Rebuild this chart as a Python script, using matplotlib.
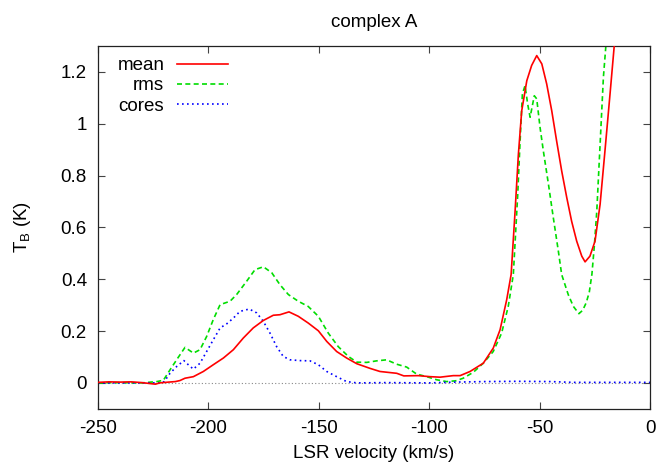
import matplotlib
matplotlib.use("Agg")
import matplotlib.pyplot as plt

plt.rcParams['font.family'] = ['Liberation Sans', 'DejaVu Sans']
plt.rcParams['mathtext.default'] = 'regular'

title = "complex A"
xlabel = "LSR velocity (km/s)"
ylabel = r"T$_{B}$ (K)"

# mean
v_mean = [-250, -245, -240, -235, -230, -226, -224, -222, -218, -215, -212.9, -210.6, -206.8,
          -202.3, -197.8, -193.2, -188.7, -184.2, -179.7, -175.1, -170.6, -167.6, -163.5,
          -159.3, -154.8, -150.2, -146.4, -141.9, -137.4, -132.8, -126.8, -122.3, -118,
          -114.7, -111.5, -105, -99.6, -95.1, -89.1, -86, -81.5, -75.5, -71, -67.9, -64.9,
          -62.9, -61.1, -59.6, -58.1, -55.8, -53.6, -51.3, -49.0, -46.8, -44.5, -42.3, -40.0,
          -37.7, -35.5, -33.2, -30.9, -29.4, -27.2, -24.9, -22.6, -20.4, -18.1, -16.1, -14, -10]
T_mean = [0.002, 0.004, 0.003, 0.004, 0.001, -0.003, -0.005, 0.0, 0.003, 0.005, 0.009, 0.018,
          0.024, 0.044, 0.07, 0.096, 0.128, 0.173, 0.212, 0.241, 0.261, 0.263, 0.274, 0.257,
          0.231, 0.201, 0.16, 0.121, 0.096, 0.074, 0.056, 0.044, 0.040, 0.037, 0.027, 0.028,
          0.024, 0.022, 0.028, 0.028, 0.044, 0.076, 0.134, 0.205, 0.321,
          0.418, 0.663, 0.883, 1.05, 1.166, 1.225, 1.263, 1.231, 1.154, 1.05, 0.934, 0.818,
          0.715, 0.624, 0.547, 0.489, 0.467, 0.489, 0.547, 0.689, 0.895, 1.115, 1.31, 1.6, 2.0]

# rms
v_rms = [-250, -240, -230, -223.4, -220.4, -217.4, -214.4, -210.6, -206.8, -203.8, -200.8,
         -197.8, -194.7, -190.2, -187.2, -182.7, -178.9, -175.1, -171.3, -167.6, -163.8,
         -159.3, -154.8, -150.2, -145.7, -141.2, -136.6, -132.8, -128.3, -123.8, -119.3,
         -114.7, -110.2, -105.7, -101.1, -96.6, -92.1, -88, -84.6, -80, -75.5, -71, -67.2,
         -64.2, -61.9, -59.9, -58.9, -57.8, -56.6, -55.4, -54.3, -52.4, -51.3, -49.8, -48.3,
         -46.0, -43.8, -41.5, -40.0, -37.0, -34.7, -32.2, -30.5, -28.9, -27.5, -26.3, -25.2,
         -24.1, -22.6, -21.1, -19.9, -18.5]
T_rms = [0.0, 0.001, 0.0, 0.005, 0.01, 0.05, 0.089, 0.137, 0.115, 0.128, 0.179, 0.244, 0.302,
         0.315, 0.341, 0.392, 0.437, 0.448, 0.425, 0.379, 0.341, 0.315, 0.295, 0.257, 0.192,
         0.14, 0.102, 0.08, 0.079, 0.085, 0.089, 0.072, 0.061, 0.034, 0.024, 0.012, 0.005,
         0.008, 0.018, 0.041, 0.076, 0.121, 0.192, 0.295, 0.418, 0.728, 0.921, 1.115, 1.147,
         1.076, 1.025, 1.108, 1.096, 0.986, 0.895, 0.767, 0.638, 0.508, 0.418, 0.34, 0.295,
         0.267, 0.28, 0.309, 0.35, 0.42, 0.53, 0.663, 0.921, 1.18, 1.31, 1.6]

# cores
v_cores = [-250, -235, -222, -220, -217.4, -214.4, -211.1, -209.1, -206.8, -203.8, -200.8,
           -197.8, -194.7, -191.7, -188.7, -185.7, -181.5, -178.1, -175.1, -172.1, -169.1,
           -166.1, -163, -158.5, -154, -150.2, -146.4, -141.9, -137.4, -132.8, -120, -100,
           -88, -75, -60, -45, -35, -20, 0]
T_cores = [0.0, 0.0, 0.0, 0.005, 0.037, 0.063, 0.086, 0.07, 0.053, 0.076, 0.121, 0.166, 0.212,
           0.228, 0.25, 0.276, 0.285, 0.27, 0.237, 0.192, 0.14, 0.102, 0.089, 0.086, 0.085,
           0.07, 0.044, 0.024, 0.005, 0.0, 0.001, 0.0, 0.003, 0.005, 0.006, 0.005, 0.002,
           0.002, 0.002]

xticks = [-250, -200, -150, -100, -50, 0]
yticks = [0, 0.2, 0.4, 0.6, 0.8, 1, 1.2]
ytick_labels = ["0", "0.2", "0.4", "0.6", "0.8", "1", "1.2"]

FS = 13.5
fig = plt.figure(figsize=(6.58, 4.70), dpi=100)
ax = fig.add_axes([98/658, 1 - 408.8/470, (650-98)/658, (408.8-46)/470])

ax.axhline(0, color='#888888', lw=0.8, ls=(0, (1, 2)), zorder=1)
ax.plot(v_mean, T_mean, color='#ff0000', lw=1.2, label='mean', zorder=3)
ax.plot(v_rms, T_rms, color='#00dd00', lw=1.2, ls=(0, (3, 2)), label='rms', zorder=2)
ax.plot(v_cores, T_cores, color='#0000ff', lw=1.2, ls=(0, (1, 2)), label='cores', zorder=2)

ax.set_xlim(-250, 0)
ax.set_ylim(-0.1, 1.3)
ax.set_xticks(xticks)
ax.set_xticklabels([str(t) for t in xticks])
ax.set_yticks(yticks)
ax.set_yticklabels(ytick_labels)
ax.tick_params(direction='in', length=5, width=0.8, top=True, right=True,
               labelsize=FS, pad=8, color='#444444')
for s in ax.spines.values():
    s.set_linewidth(0.9)
    s.set_color('#222222')

ax.set_title(title, fontsize=FS, pad=14)
ax.set_xlabel(xlabel, fontsize=FS, labelpad=6)
ax.set_ylabel(ylabel, fontsize=FS)
ax.yaxis.set_label_coords(-0.118, 0.5)

ax.legend(loc='upper left', bbox_to_anchor=(0.018, 0.995), frameon=False, markerfirst=False,
          fontsize=FS, handlelength=2.7, handletextpad=0.7, labelspacing=0.16,
          borderaxespad=0.3, borderpad=0.2)

fig.savefig("out.png", dpi=100)
